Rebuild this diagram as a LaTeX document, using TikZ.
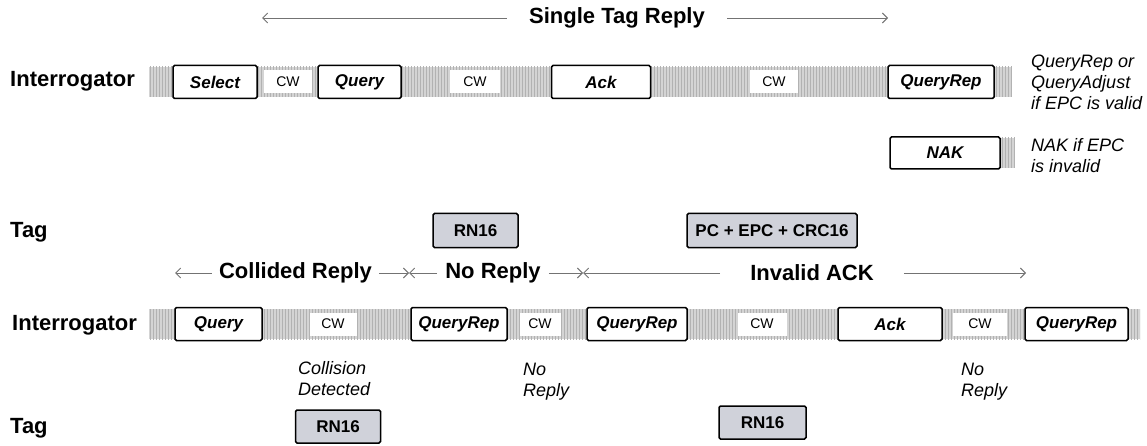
\documentclass[tikz,border=0pt]{standalone}
\usepackage{fontspec}
\setmainfont{Liberation Sans}
\usetikzlibrary{arrows.meta,patterns}
\definecolor{replygray}{RGB}{208,210,218}
\definecolor{bandgray}{RGB}{212,212,212}

\begin{document}
\begin{tikzpicture}[x=1pt,y=-1pt,
  lbl/.style={anchor=west,inner sep=0pt,font=\fontsize{22}{26}\selectfont\bfseries},
  spantext/.style={inner sep=0pt,font=\fontsize{22}{26}\selectfont\bfseries},
  cmd/.style={draw=black,line width=1.5pt,fill=white,rounded corners=1.5pt,minimum height=33pt,inner sep=0pt,font=\fontsize{17}{20}\selectfont\bfseries\itshape},
  reply/.style={cmd,fill=replygray,font=\fontsize{17}{20}\selectfont\bfseries},
  cw/.style={fill=white,minimum height=23pt,inner sep=0pt,font=\fontsize{14}{16}\selectfont},
  note/.style={anchor=west,align=left,inner sep=0pt,font=\fontsize{18}{21}\selectfont\itshape},
  span/.style={draw=black!55,line width=0.8pt,-{Straight Barb[length=5pt,width=10pt,line width=0.9pt]}}
]
\useasboundingbox (0,0) rectangle (1147,446);

% bands of carrier wave
\fill[bandgray] (149,67) rectangle (1012,97);
\fill[pattern=vertical lines,pattern color=gray!60] (149,67) rectangle (1012,97);
\fill[bandgray] (998,138) rectangle (1015,168);
\fill[pattern=vertical lines,pattern color=gray!60] (998,138) rectangle (1015,168);
\fill[bandgray] (149,309) rectangle (1140,339);
\fill[pattern=vertical lines,pattern color=gray!60] (149,309) rectangle (1140,339);

% single tag reply
\node[spantext,inner xsep=22pt] (single) at (617,18) {Single Tag Reply};
\coordinate (singleL) at (262,18);
\coordinate (singleR) at (888,18);
\draw[span] (single) -- (singleL);
\draw[span] (single) -- (singleR);

\node[lbl] (int1) at (10,81) {Interrogator};
\path
(215,82) node[cmd,minimum width=84pt] (select) {Select}
(288,82) node[cw,minimum width=48pt] (cw1) {CW}
(359.5,82) node[cmd,minimum width=83pt] (query1) {Query}
(475,82) node[cw,minimum width=50pt] (cw2) {CW}
(601,82) node[cmd,minimum width=99pt] (ack1) {Ack}
(774,82) node[cw,minimum width=48pt] (cw3) {CW}
(941,82) node[cmd,minimum width=106pt] (qrep1) {QueryRep}
(945,153) node[cmd,minimum width=110pt,minimum height=32pt] (nak) {NAK}
;
\node[note] (epcvalid) at (1031,82) {QueryRep or\\QueryAdjust\\if EPC is valid};
\node[note] (epcinvalid) at (1031,156) {NAK if EPC\\is invalid};

\node[lbl] (tag1) at (10,232) {Tag};
\node[reply,minimum width=85pt,minimum height=34pt] (rn1) at (475.5,230.5) {RN16};
\node[reply,minimum width=170pt,minimum height=34pt] (epc) at (772,230.5) {PC + EPC + CRC16};

% collided, no reply, invalid ack
\node[spantext,inner xsep=7pt] (collided) at (295.5,273) {Collided Reply};
\node[spantext,inner xsep=8pt] (noreply) at (493,273) {No Reply};
\node[spantext,inner xsep=30pt] (badack) at (812,273) {Invalid ACK};
\coordinate (colL) at (175,273);
\coordinate (colR) at (409,273);
\coordinate (invL) at (583,273);
\coordinate (invR) at (1026,273);
\draw[span] (collided) -- (colL);
\draw[span] (collided) -- (colR);
\draw[span] (noreply) -- (colR);
\draw[span] (noreply) -- (invL);
\draw[span] (badack) -- (invL);
\draw[span] (badack) -- (invR);

\node[lbl] (int2) at (12,325) {Interrogator};
\path
(218.5,324) node[cmd,minimum width=87pt] (query2) {Query}
(333,324) node[cw,minimum width=47pt] (cw4) {CW}
(459,324) node[cmd,minimum width=96pt] (qrep2) {QueryRep}
(540,324) node[cw,minimum width=41pt] (cw5) {CW}
(637,324) node[cmd,minimum width=100pt] (qrep3) {QueryRep}
(762,324) node[cw,minimum width=49pt] (cw6) {CW}
(890,324) node[cmd,minimum width=104pt] (ack2) {Ack}
(980,324) node[cw,minimum width=54pt] (cw7) {CW}
(1076.5,324) node[cmd,minimum width=103pt] (qrep4) {QueryRep}
;
\node[note] (collision) at (298,379) {Collision\\Detected};
\node[note] (none1) at (523,382) {No\\Reply};
\node[note] (none2) at (961,382) {No\\Reply};

\node[lbl] (tag2) at (10,428) {Tag};
\node[reply,minimum width=85pt] (rn2) at (338,426.5) {RN16};
\node[reply,minimum width=87pt] (rn3) at (762.5,422.5) {RN16};
\end{tikzpicture}
\end{document}
